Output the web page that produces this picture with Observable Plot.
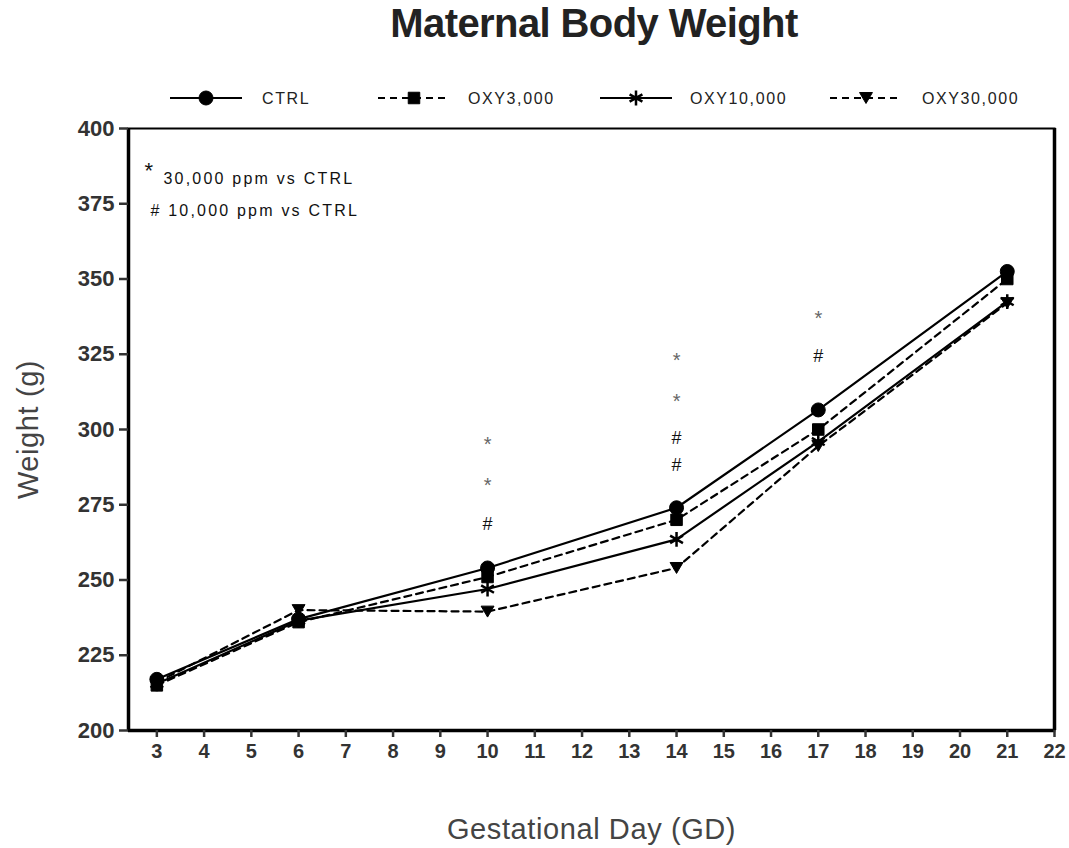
<!DOCTYPE html>
<html>
<head>
<meta charset="utf-8">
<script src="https://cdn.jsdelivr.net/npm/d3@7"></script>
<script src="https://cdn.jsdelivr.net/npm/@observablehq/plot@0.6"></script>
<style>
  body { margin: 0; background: #fff; font-family: "Liberation Sans", Arial, sans-serif; }
  #wrap { width: 1069px; }
  #title { height: 70px; position: relative; }
  #title span { position: absolute; left: 0; width: 1188px; text-align: center; top: 1px; font-size: 40px; font-weight: bold; color: #222; letter-spacing: -0.6px; }
  #legend { height: 45px; position: relative; }
  svg { display: block; }
  .note text { letter-spacing: 2.2px; }
  .axlabel text { letter-spacing: 0.6px; }
</style>
</head>
<body>
<div id="wrap">
  <div id="title"><span>Maternal Body Weight</span></div>
  <div id="legend"></div>
  <div id="chart"></div>
</div>
<script>
// ---- data ----
const days = [3, 6, 10, 14, 17, 21];
const seriesNames = ["CTRL", "OXY3,000", "OXY10,000", "OXY30,000"];
const ctrl     = [217, 237, 254, 274, 306.5, 352.5];
const oxy3000  = [215, 236, 251, 270, 300, 350];
const oxy10000 = [215.5, 236.5, 247, 263.5, 296, 342.5];
const oxy30000 = [216, 240, 239.5, 254, 294.5, 342];
const xTicks = d3.range(3, 23);
const yTicks = [200, 225, 250, 275, 300, 325, 350, 375, 400];
const sigDays   = [10, 10, 10, 14, 14, 14, 14, 17, 17];
const sigValues = [295.5, 282, 268.5, 323.5, 310, 297, 288, 337.5, 324.5];
const sigLabels = ["*", "*", "#", "*", "*", "#", "#", "*", "#"];
const noteLines = ["30,000 ppm vs CTRL", "10,000 ppm vs CTRL"];
const noteMarks = ["*", "#"];

// ---- styles ----
const triangleDown = {
  draw(context, size) {
    const s = Math.sqrt(size / 0.8);
    const h = s * 0.85;
    context.moveTo(-s / 2, -h / 2);
    context.lineTo(s / 2, -h / 2);
    context.lineTo(0, h / 2);
    context.closePath();
  }
};
const styles = [
  {dash: null, symbol: "circle", fill: "#000", r: 7},
  {dash: "7,5", symbol: "square", fill: "#000", r: 6.5},
  {dash: null, symbol: "asterisk", fill: "none", r: 7},
  {dash: "7,5", symbol: triangleDown, fill: "#000", r: 6.5}
];
const values = [ctrl, oxy3000, oxy10000, oxy30000];
const rows = seriesNames.map((name, i) => days.map((d, j) => ({series: name, day: d, weight: values[i][j]})));
const sig = sigDays.map((d, i) => ({day: d, y: sigValues[i], label: sigLabels[i]}));

// ---- legend ----
const legendSvg = d3.select("#legend").append("svg").attr("width", 1069).attr("height", 45);
const legendX = [170, 378, 600, 830];
const labelX = [262, 468, 690, 922];
seriesNames.forEach((name, i) => {
  const st = styles[i];
  const y = 98 - 70;
  legendSvg.append("line").attr("x1", legendX[i]).attr("x2", legendX[i] + 72).attr("y1", y).attr("y2", y)
    .attr("stroke", "#000").attr("stroke-width", 2.2).attr("stroke-dasharray", st.dash);
  const sym = typeof st.symbol === "string" ? {circle: d3.symbolCircle, square: d3.symbolSquare, asterisk: d3.symbolAsterisk}[st.symbol] : st.symbol;
  legendSvg.append("path").attr("d", d3.symbol(sym, Math.PI * st.r * st.r)())
    .attr("transform", `translate(${legendX[i] + 36},${y})`)
    .attr("fill", st.fill).attr("stroke", "#000").attr("stroke-width", st.symbol === "asterisk" ? 2.5 : 1);
  legendSvg.append("text").attr("x", labelX[i]).attr("y", y).attr("dy", "0.35em")
    .attr("font-size", 16).attr("fill", "#222").attr("letter-spacing", "1.6px").text(name);
});

// ---- chart ----
const marks = [];
seriesNames.forEach((name, i) => {
  const st = styles[i];
  marks.push(Plot.line(rows[i], {x: "day", y: "weight", stroke: "#000", strokeWidth: 2.2, strokeDasharray: st.dash}));
});
seriesNames.forEach((name, i) => {
  const st = styles[i];
  marks.push(Plot.dot(rows[i], {x: "day", y: "weight", symbol: () => st.symbol, r: st.r, fill: st.fill, stroke: "#000",
    strokeWidth: st.symbol === "asterisk" ? 2.5 : 1}));
});

const chart = Plot.plot({
  width: 1069,
  height: 733,
  marginLeft: 128,
  marginRight: 15,
  marginTop: 13,
  marginBottom: 118,
  style: {fontFamily: "'Liberation Sans', Arial, sans-serif", background: "#fff", color: "#333"},
  x: {domain: [2.4, 22], ticks: xTicks, tickSize: 7, tickPadding: 8, label: null},
  y: {domain: [200, 400], ticks: yTicks, tickSize: 9, tickPadding: 5, label: null},
  symbol: {type: "identity"},
  marks: [
    Plot.frame({stroke: "#000", strokeWidth: 2}),
    Plot.ruleX([2.4], {stroke: "#000", strokeWidth: 3.5}),
    Plot.ruleX([22], {stroke: "#000", strokeWidth: 3.5}),
    Plot.ruleY([200], {stroke: "#000", strokeWidth: 3.5}),
    Plot.axisX({ticks: xTicks, tickSize: 7, tickPadding: 6, strokeWidth: 2.5, fontSize: 20, fontWeight: "bold", fill: "#333", label: null}),
    Plot.axisY({ticks: yTicks, tickSize: 9, tickPadding: 5, strokeWidth: 2.5, fontSize: 22, fontWeight: "bold", fill: "#333", label: null}),
    ...marks,
    Plot.text(sig.filter(d => d.label === "*"), {x: "day", y: "y", text: "label", fontSize: 20, fill: "#666", dy: 2}),
    Plot.text(sig.filter(d => d.label === "#"), {x: "day", y: "y", text: "label", fontSize: 18, fill: "#111"}),
    Plot.text([noteMarks[0]], {frameAnchor: "top-left", dx: 16, dy: 34, fontSize: 22, fill: "#111"}),
    Plot.text([noteLines[0]], {frameAnchor: "top-left", dx: 35, dy: 44, fontSize: 16, fill: "#111", className: "note"}),
    Plot.text([noteMarks[1] + " " + noteLines[1]], {frameAnchor: "top-left", dx: 22, dy: 76, fontSize: 16, fill: "#111", className: "note"}),
    Plot.text(["Gestational Day (GD)"], {frameAnchor: "bottom", dy: 108, fontSize: 29, fill: "#444", className: "axlabel"}),
    Plot.text(["Weight (g)"], {frameAnchor: "left", textAnchor: "middle", dx: -100, rotate: -90, fontSize: 29, fill: "#444", className: "axlabel"})
  ]
});
document.getElementById("chart").appendChild(chart);
</script>
</body>
</html>
